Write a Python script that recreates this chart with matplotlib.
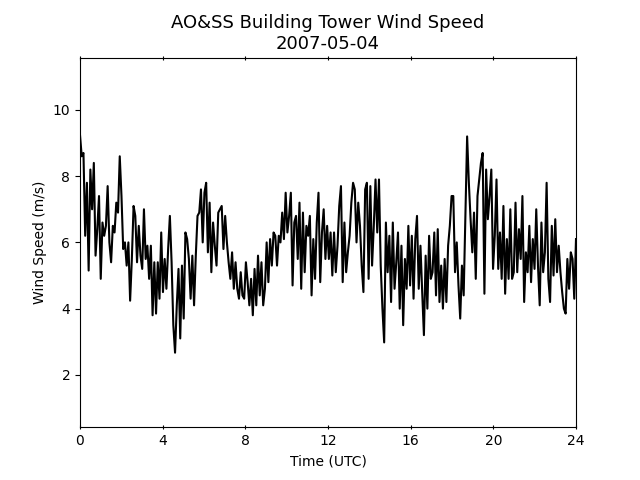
import numpy as np
import matplotlib
matplotlib.use("Agg")
import matplotlib.pyplot as plt

# 5-minute wind speed (m/s), one row per hour
speed_00_06 = [
    9.24, 8.6, 8.7, 6.2, 7.8, 5.15, 8.2, 7.0, 8.4, 5.6, 6.4, 7.4,
    4.9, 6.6, 6.2, 6.5, 7.7, 6.0, 5.4, 6.5, 6.3, 7.2, 6.9, 8.6,
    7.4, 5.8, 6.0, 5.3, 6.0, 4.24, 5.5, 7.1, 6.8, 5.4, 6.5, 5.6,
    5.2, 7.0, 5.5, 5.9, 4.9, 5.9, 3.8, 5.4, 3.85, 5.4, 4.3, 6.3,
    4.5, 5.5, 4.6, 5.8, 6.8, 5.4, 3.5, 2.67, 4.1, 5.2, 3.1, 5.3,
    3.7, 6.3, 6.1, 5.5, 4.3, 5.6, 4.1, 5.6, 6.8, 6.9, 7.6, 6.0,
]
speed_06_12 = [
    7.5, 7.8, 5.7, 7.2, 5.1, 6.6, 5.9, 5.3, 6.9, 7.0, 7.1, 5.8,
    6.8, 6.0, 5.4, 4.9, 5.7, 4.6, 5.4, 4.6, 4.3, 5.1, 4.4, 4.3,
    5.4, 4.8, 4.1, 4.9, 3.8, 5.2, 4.1, 5.6, 4.4, 5.4, 4.1, 4.6,
    6.0, 4.8, 6.1, 5.3, 6.3, 6.2, 5.3, 6.2, 6.0, 6.9, 6.1, 7.5,
    6.3, 6.8, 7.5, 4.7, 6.6, 6.8, 5.5, 7.2, 4.6, 6.9, 5.1, 6.5,
    6.2, 6.8, 4.4, 6.1, 4.9, 6.6, 7.5, 4.8, 6.3, 7.0, 5.5, 6.5,
]
speed_12_18 = [
    5.5, 6.3, 5.0, 6.3, 5.1, 5.9, 7.1, 7.7, 4.8, 6.6, 5.1, 5.7,
    6.2, 7.2, 7.8, 7.6, 6.0, 7.2, 6.5, 5.3, 4.5, 7.6, 7.8, 4.9,
    7.7, 5.3, 6.5, 7.9, 6.3, 7.9, 5.3, 4.0, 2.98, 6.6, 5.1, 6.2,
    4.2, 6.6, 4.6, 5.4, 6.3, 4.0, 5.9, 3.5, 5.5, 4.6, 6.5, 4.7,
    6.2, 4.3, 6.1, 6.8, 4.6, 5.9, 4.5, 3.2, 5.6, 4.0, 6.2, 4.9,
    5.1, 6.3, 4.4, 6.4, 4.2, 5.3, 4.0, 5.5, 4.2, 5.9, 6.5, 7.4,
]
speed_18_24 = [
    7.4, 5.1, 6.0, 4.7, 3.7, 5.3, 4.4, 6.8, 9.2, 7.8, 6.7,
    5.7, 6.9, 4.9, 7.4, 7.9, 8.4, 8.7, 4.45, 8.2, 6.7,
    7.4, 8.2, 5.2, 6.2, 7.9, 5.2, 6.3, 4.9, 7.1, 4.45,
    6.1, 4.9, 7.0, 4.9, 5.1, 7.2, 5.1, 6.4, 5.5, 7.4,
    4.2, 5.7, 5.1, 6.5, 4.8, 6.1, 5.2, 7.0, 5.3, 4.1,
    6.6, 5.1, 5.7, 7.8, 4.9, 4.2, 6.5, 5.0, 6.7, 5.1,
    5.9, 5.1, 4.5, 4.0, 3.85, 5.5, 4.6, 5.7, 5.5, 4.3, 6.1,
]

speed = np.array(speed_00_06 + speed_06_12 + speed_12_18 + speed_18_24)
hours = np.linspace(0, 24, len(speed))

x_ticks = [0, 4, 8, 12, 16, 20, 24]
y_ticks = [2, 4, 6, 8, 10]

fig, ax = plt.subplots(figsize=(6.4, 4.8), dpi=100)
ax.plot(hours, speed, color='k', lw=1.5)

ax.set_xlim(0, 24)
ax.set_ylim(0.42, 11.58)
ax.set_xticks(x_ticks)
ax.set_yticks(y_ticks)
ax.tick_params(axis='x', top=True, direction='inout')

ax.set_xlabel('Time (UTC)')
ax.set_ylabel('Wind Speed (m/s)')
ax.set_title('AO&SS Building Tower Wind Speed\n2007-05-04', fontsize=13)

fig.savefig('out.png')
